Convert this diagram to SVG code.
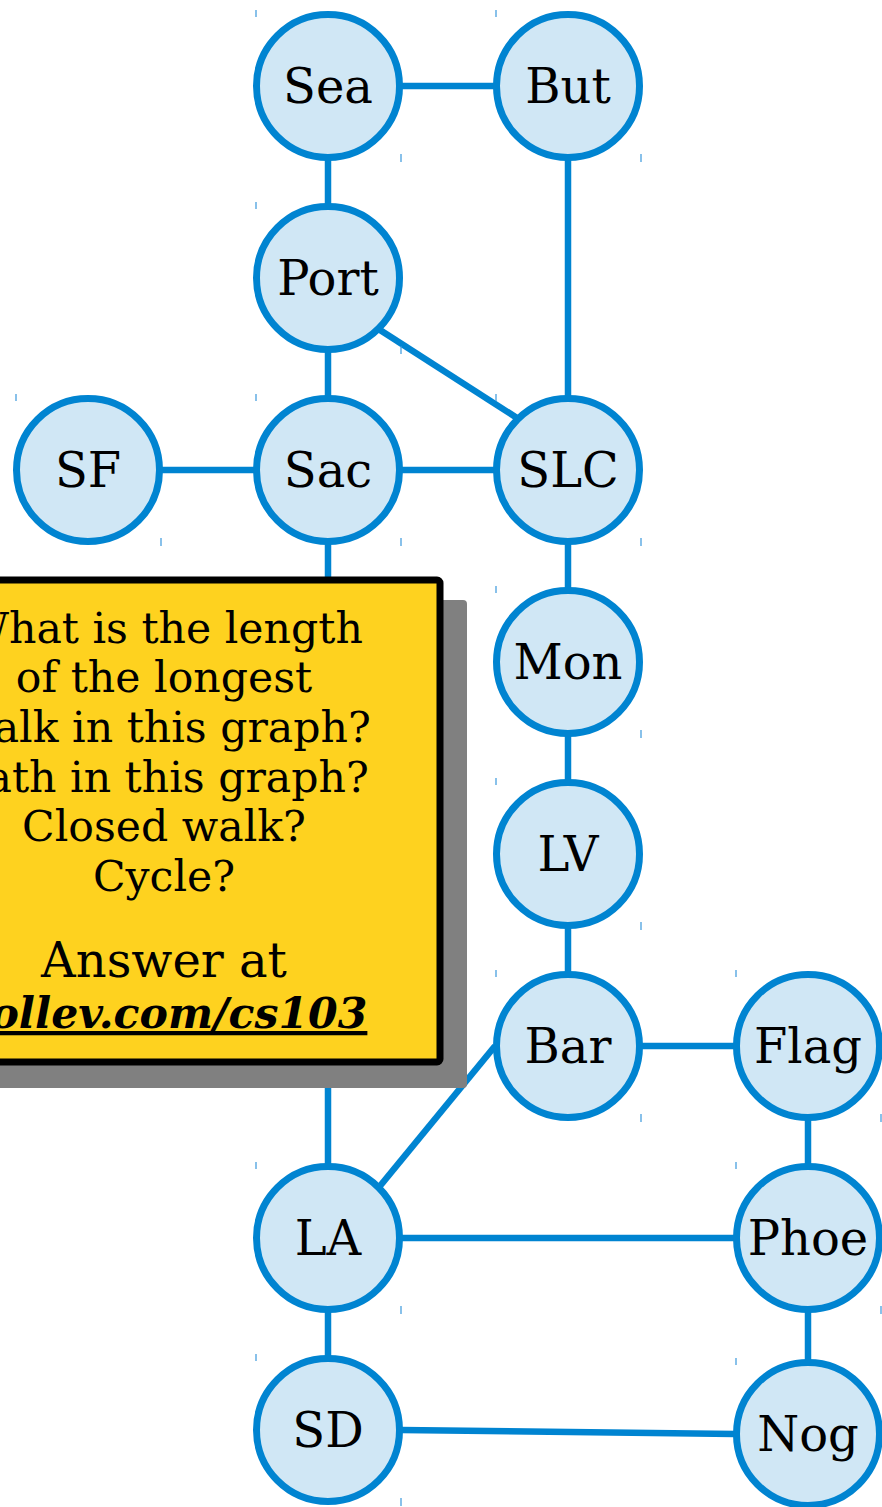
<svg xmlns="http://www.w3.org/2000/svg" width="882" height="1507" viewBox="0 0 882 1507">
<style>
.edge{stroke:#0084d1;stroke-width:6.5;fill:none}
.node circle{fill:#d0e7f5;stroke:#0084d1;stroke-width:7}
.node text{font-family:"DejaVu Serif",serif;font-size:48px;fill:#000;text-anchor:middle}
.tick{stroke:#3a98dc;stroke-width:1.2}
.q{font-family:"DejaVu Serif",serif;font-size:42.6px;fill:#000;text-anchor:middle}
</style>
<rect width="882" height="1507" fill="#ffffff"/>
<g id="connectors">
<line class="edge" x1="401" y1="86" x2="495" y2="86"/>
<line class="edge" x1="328" y1="159" x2="328" y2="205"/>
<line class="edge" x1="568" y1="159" x2="568" y2="397"/>
<line class="edge" x1="328" y1="351" x2="328" y2="397"/>
<line class="edge" x1="380" y1="330" x2="517" y2="418"/>
<line class="edge" x1="161" y1="470" x2="255" y2="470"/>
<line class="edge" x1="401" y1="470" x2="495" y2="470"/>
<line class="edge" x1="328" y1="543" x2="328" y2="1165"/>
<line class="edge" x1="568" y1="543" x2="568" y2="589"/>
<line class="edge" x1="568" y1="735" x2="568" y2="781"/>
<line class="edge" x1="568" y1="927" x2="568" y2="973"/>
<line class="edge" x1="641" y1="1046" x2="735" y2="1046"/>
<line class="edge" x1="495" y1="1046" x2="380" y2="1186"/>
<line class="edge" x1="808" y1="1119" x2="808" y2="1165"/>
<line class="edge" x1="401" y1="1238" x2="735" y2="1238"/>
<line class="edge" x1="328" y1="1311" x2="328" y2="1357"/>
<line class="edge" x1="808" y1="1311" x2="808" y2="1361"/>
<line class="edge" x1="401" y1="1430" x2="735" y2="1434"/>
</g>
<g id="node-Sea" class="node"><circle cx="328" cy="86" r="71.5"/><text x="328" y="103">Sea</text><line class="tick" x1="256" y1="10" x2="256" y2="17"/><line class="tick" x1="401" y1="154" x2="401" y2="162"/></g>
<g id="node-But" class="node"><circle cx="568" cy="86" r="71.5"/><text x="568" y="103">But</text><line class="tick" x1="496" y1="10" x2="496" y2="17"/><line class="tick" x1="641" y1="154" x2="641" y2="162"/></g>
<g id="node-Port" class="node"><circle cx="328" cy="278" r="71.5"/><text x="328" y="295">Port</text><line class="tick" x1="256" y1="202" x2="256" y2="209"/><line class="tick" x1="401" y1="346" x2="401" y2="354"/></g>
<g id="node-SF" class="node"><circle cx="88" cy="470" r="71.5"/><text x="88" y="487">SF</text><line class="tick" x1="16" y1="394" x2="16" y2="401"/><line class="tick" x1="161" y1="538" x2="161" y2="546"/></g>
<g id="node-Sac" class="node"><circle cx="328" cy="470" r="71.5"/><text x="328" y="487">Sac</text><line class="tick" x1="256" y1="394" x2="256" y2="401"/><line class="tick" x1="401" y1="538" x2="401" y2="546"/></g>
<g id="node-SLC" class="node"><circle cx="568" cy="470" r="71.5"/><text x="568" y="487">SLC</text><line class="tick" x1="496" y1="394" x2="496" y2="401"/><line class="tick" x1="641" y1="538" x2="641" y2="546"/></g>
<g id="node-Mon" class="node"><circle cx="568" cy="662" r="71.5"/><text x="568" y="679">Mon</text><line class="tick" x1="496" y1="586" x2="496" y2="593"/><line class="tick" x1="641" y1="730" x2="641" y2="738"/></g>
<g id="node-LV" class="node"><circle cx="568" cy="854" r="71.5"/><text x="568" y="871">LV</text><line class="tick" x1="496" y1="778" x2="496" y2="785"/><line class="tick" x1="641" y1="922" x2="641" y2="930"/></g>
<g id="node-Bar" class="node"><circle cx="568" cy="1046" r="71.5"/><text x="568" y="1063">Bar</text><line class="tick" x1="496" y1="970" x2="496" y2="977"/><line class="tick" x1="641" y1="1114" x2="641" y2="1122"/></g>
<g id="node-Flag" class="node"><circle cx="808" cy="1046" r="71.5"/><text x="808" y="1063">Flag</text><line class="tick" x1="736" y1="970" x2="736" y2="977"/><line class="tick" x1="881" y1="1114" x2="881" y2="1122"/></g>
<g id="node-LA" class="node"><circle cx="328" cy="1238" r="71.5"/><text x="328" y="1255">LA</text><line class="tick" x1="256" y1="1162" x2="256" y2="1169"/><line class="tick" x1="401" y1="1306" x2="401" y2="1314"/></g>
<g id="node-Phoe" class="node"><circle cx="808" cy="1238" r="71.5"/><text x="808" y="1255">Phoe</text><line class="tick" x1="736" y1="1162" x2="736" y2="1169"/><line class="tick" x1="881" y1="1306" x2="881" y2="1314"/></g>
<g id="node-SD" class="node"><circle cx="328" cy="1430" r="71.5"/><text x="328" y="1447">SD</text><line class="tick" x1="256" y1="1354" x2="256" y2="1361"/><line class="tick" x1="401" y1="1498" x2="401" y2="1506"/></g>
<g id="node-Nog" class="node"><circle cx="808" cy="1434" r="71.5"/><text x="808" y="1451">Nog</text><line class="tick" x1="736" y1="1358" x2="736" y2="1365"/></g>
<g id="callout">
<rect x="-88" y="600" width="555" height="488" rx="4" fill="#808080"/>
<rect x="-112" y="580" width="552" height="482" rx="3" fill="#fed21f" stroke="#000" stroke-width="7"/>
<text class="q" x="164" y="643">What is the length</text>
<text class="q" x="164" y="692">of the longest</text>
<text class="q" x="164" y="742">walk in this graph?</text>
<text class="q" x="164" y="792">path in this graph?</text>
<text class="q" x="164" y="841">Closed walk?</text>
<text class="q" x="164" y="891">Cycle?</text>
<text class="q" x="164" y="977" style="font-size:48px">Answer at</text>
<text class="q" x="164" y="1028" style="font-size:42.6px;font-weight:bold;font-style:italic;text-decoration:underline">pollev.com/cs103</text>
</g>
</svg>
